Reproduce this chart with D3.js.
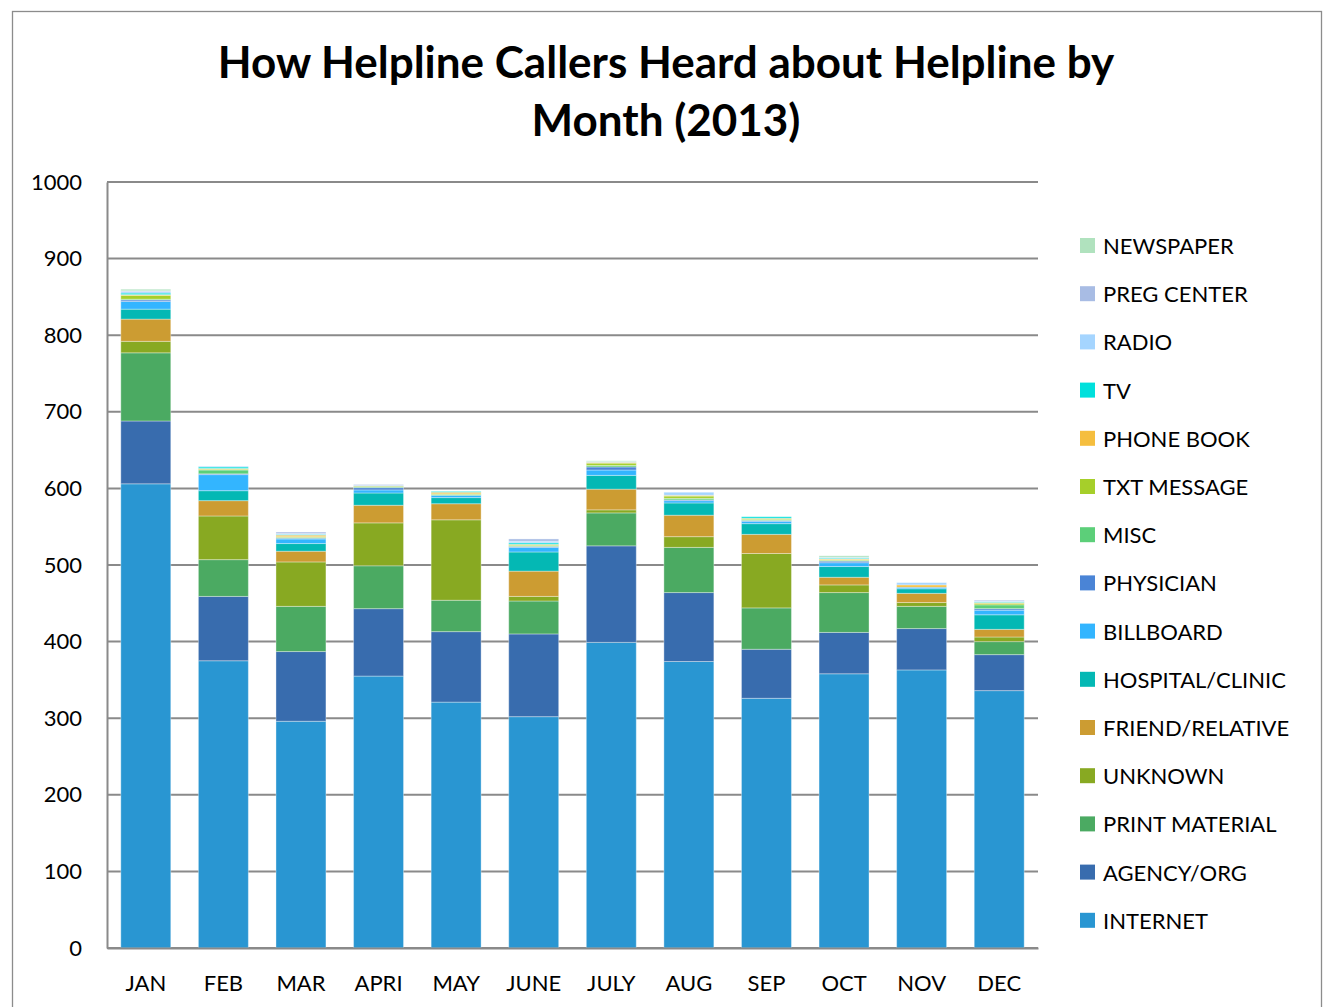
<!DOCTYPE html>
<html>
<head>
<meta charset="utf-8">
<script src="https://cdn.jsdelivr.net/npm/d3@7"></script>
<style>
  html, body { margin: 0; padding: 0; background: #fff; }
  svg { display: block; }
  text { font-family: Lato, "Open Sans", sans-serif; fill: #000; }
</style>
</head>
<body>
<svg id="chart" width="1324" height="1007"></svg>
<script>
// Months along the x axis
const months = ["JAN", "FEB", "MAR", "APRI", "MAY", "JUNE", "JULY", "AUG", "SEP", "OCT", "NOV", "DEC"];

// Referral sources, stacked bottom to top
const sources = ["INTERNET", "AGENCY/ORG", "PRINT MATERIAL", "UNKNOWN", "FRIEND/RELATIVE",
  "HOSPITAL/CLINIC", "BILLBOARD", "PHYSICIAN", "MISC", "TXT MESSAGE", "PHONE BOOK",
  "TV", "RADIO", "PREG CENTER", "NEWSPAPER"];

// Callers per source per month (JAN..DEC)
const internet       = [606, 375, 296, 355, 321, 302, 399, 374, 326, 358, 363, 336];
const agencyOrg      = [ 82,  84,  91,  88,  92, 108, 126,  90,  64,  54,  54,  47];
const printMaterial  = [ 89,  48,  59,  56,  41,  43,  43,  59,  54,  52,  29,  17];
const unknown        = [ 15,  57,  58,  56, 105,   6,   4,  14,  71,  10,   5,   6];
const friendRelative = [ 29,  20,  14,  23,  21,  33,  27,  28,  25,  10,  12,  10];
const hospitalClinic = [ 13,  13,  10,  16,   8,  25,  18,  16,  14,  14,   6,  19];
const billboard      = [ 10,  21,   6,   4,   3,   6,   7,   3,   3,   5,   2,   6];
const physician      = [  2,   1,   1,   3,   0,   1,   4,   1,   1,   2,   0,   2];
const misc           = [  1,   5,   1,   1,   1,   1,   2,   2,   1,   1,   0,   5];
const txtMessage     = [  5,   1,   1,   1,   1,   1,   3,   3,   1,   1,   0,   2];
const phoneBook      = [  1,   1,   2,   0,   2,   1,   1,   1,   1,   1,   3,   1];
const tv             = [  2,   2,   1,   0,   1,   2,   0,   0,   2,   1,   0,   1];
const radio          = [  2,   1,   1,   1,   0,   2,   1,   4,   0,   1,   3,   1];
const pregCenter     = [  1,   0,   2,   1,   0,   3,   0,   0,   0,   0,   0,   1];
const newspaper      = [  2,   0,   0,   0,   0,   0,   1,   0,   0,   2,   0,   0];

const seriesValues = [internet, agencyOrg, printMaterial, unknown, friendRelative,
  hospitalClinic, billboard, physician, misc, txtMessage, phoneBook, tv, radio,
  pregCenter, newspaper];

const colors = ["#2996d2", "#386cae", "#4baa62", "#88a922", "#cc9c32", "#04b8b4",
  "#33b5ff", "#4a84d6", "#5ccf79", "#a6cf2a", "#f5be3e", "#00e0dc", "#a5d5ff",
  "#a8bce4", "#b0e2be"];

const yTicks = [0, 100, 200, 300, 400, 500, 600, 700, 800, 900, 1000];

// Build row objects for d3.stack
const rows = months.map((m, i) => {
  const r = { month: m };
  sources.forEach((s, j) => { r[s] = seriesValues[j][i]; });
  return r;
});

const svg = d3.select("#chart");

// Outer chart frame
svg.append("rect")
  .attr("x", 12.5).attr("y", 11.5)
  .attr("width", 1309).attr("height", 1000)
  .attr("fill", "none").attr("stroke", "#8c8c8c").attr("stroke-width", 1.3);

const plot = { left: 107, right: 1038, top: 182, bottom: 948 };

const x = d3.scaleBand()
  .domain(months)
  .range([plot.left, plot.right])
  .paddingInner(0.356)
  .paddingOuter(0.178);

const y = d3.scaleLinear()
  .domain([0, 1000])
  .range([plot.bottom, plot.top]);

const color = d3.scaleOrdinal().domain(sources).range(colors);

// Horizontal gridlines
svg.append("g")
  .selectAll("line")
  .data(yTicks)
  .join("line")
  .attr("x1", plot.left).attr("x2", plot.right)
  .attr("y1", d => y(d)).attr("y2", d => y(d))
  .attr("stroke", "#8a8a8a").attr("stroke-width", 2);

// Y axis
const yAxis = svg.append("g")
  .attr("transform", `translate(${plot.left},0)`)
  .call(d3.axisLeft(y).tickValues(yTicks).tickFormat(d3.format("d")).tickSize(0).tickPadding(25));
yAxis.select(".domain").attr("stroke", "#8a8a8a").attr("stroke-width", 2);
yAxis.selectAll("text")
  .style("font-family", "Lato, 'Open Sans', sans-serif")
  .style("font-size", "22px").attr("fill", "#000");

// Stacked bars
const stacked = d3.stack().keys(sources)(rows);

svg.append("g")
  .selectAll("g")
  .data(stacked)
  .join("g")
  .attr("fill", d => color(d.key))
  .selectAll("rect")
  .data(d => d)
  .join("rect")
  .attr("x", d => x(d.data.month))
  .attr("width", x.bandwidth())
  .attr("y", d => y(d[1]))
  .attr("height", d => y(d[0]) - y(d[1]))
  .attr("stroke", "rgba(255,255,255,0.35)")
  .attr("stroke-width", 1);

// X axis
const xAxis = svg.append("g")
  .attr("transform", `translate(0,${plot.bottom})`)
  .call(d3.axisBottom(x).tickSize(0).tickPadding(27));
xAxis.select(".domain").attr("stroke", "#8a8a8a").attr("stroke-width", 2);
xAxis.selectAll("text")
  .style("font-family", "Lato, 'Open Sans', sans-serif")
  .style("font-size", "22px").attr("fill", "#000");

// Title
const title = svg.append("text")
  .attr("text-anchor", "middle")
  .style("font-size", "44px")
  .style("font-weight", "bold");
title.append("tspan").attr("x", 666).attr("y", 78).text("How Helpline Callers Heard about Helpline by");
title.append("tspan").attr("x", 666).attr("y", 136).text("Month (2013)");

// Legend, top entry is the last stacked series
const legendItems = sources.slice().reverse();
const legend = svg.append("g")
  .selectAll("g")
  .data(legendItems)
  .join("g")
  .attr("transform", (d, i) => `translate(1080,${246 + i * 48.2})`);
legend.append("rect")
  .attr("x", 0).attr("y", -8)
  .attr("width", 15).attr("height", 15)
  .attr("fill", d => color(d));
legend.append("text")
  .attr("x", 23).attr("y", 0)
  .attr("dy", "0.36em")
  .style("font-size", "22px")
  .text(d => d);
</script>
</body>
</html>
